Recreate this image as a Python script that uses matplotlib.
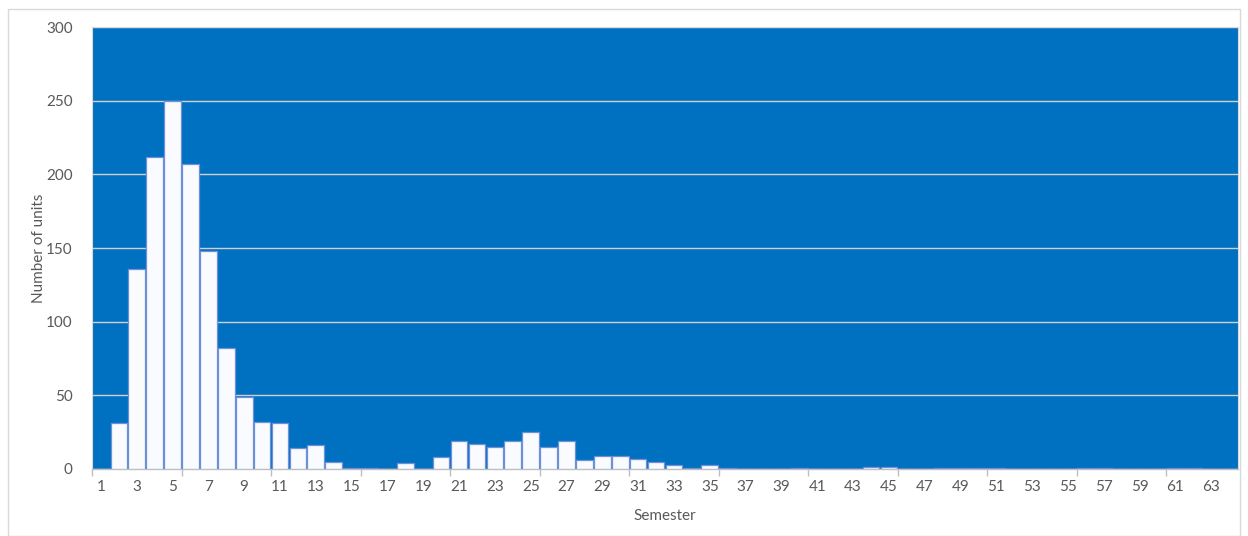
import numpy as np
import matplotlib
matplotlib.use("Agg")
import matplotlib.pyplot as plt
from matplotlib.patches import Rectangle

# units per semester
semesters = list(range(1, 65))
units = [
    0, 31, 136, 212, 250, 207, 148, 82, 49, 32,
    31, 14, 16, 5, 1, 1, 0, 4, 0, 8,
    19, 17, 15, 19, 25, 15, 19, 6, 9, 9,
    7, 5, 3, 1, 3, 0.5, 0.3, 0.3, 0.3, 0.5,
    0.3, 0.3, 0.3, 1.5, 1.5, 0.3, 0.3, 0.5, 0.5, 0.5,
    0.5, 0.3, 0.3, 0.3, 0.3, 0.5, 0.5, 0.3, 0.3, 0.3,
    0.5, 0.5, 0.3, 0.3,
]
y_ticks = [0, 50, 100, 150, 200, 250, 300]

plt.rcParams["font.family"] = ["Lato", "DejaVu Sans"]

fig = plt.figure(figsize=(12.48, 5.36), dpi=100)
ax = fig.add_axes([0.0737, 0.125, 0.9183, 0.8246])

# outer chart border
fig.patches.append(Rectangle((8 / 1248, 0), 1232 / 1248, 527 / 536, transform=fig.transFigure,
                             fill=False, edgecolor="#D9D9D9", linewidth=1.0))

ax.set_facecolor("#0070C0")
ax.bar(semesters, units, width=0.93, color="#F9FBFE", edgecolor="#6F8FD8", linewidth=0.9, zorder=3)

ax.set_xlim(0.5, 64.5)
ax.set_ylim(0, 300)

ax.set_yticks(y_ticks)
ax.yaxis.grid(True, color="#D0D0D0", linewidth=1.0, zorder=1)
ax.tick_params(axis="y", length=0, labelsize=11, colors="#595959", pad=14)

# labels on odd semesters, tick marks every 5 categories
ax.set_xticks(semesters[::2])
ax.set_xticklabels([str(s) for s in semesters[::2]])
ax.set_xticks(np.arange(0.5, 65, 5), minor=True)
ax.tick_params(axis="x", which="major", length=0, labelsize=11, colors="#595959", pad=8)
ax.tick_params(axis="x", which="minor", length=5, color="#BFBFBF", width=1)

for side in ["top", "right", "left"]:
    ax.spines[side].set_color("#D9D9D9")
    ax.spines[side].set_linewidth(0.8)
ax.spines["bottom"].set_color("#BFBFBF")
ax.spines["bottom"].set_linewidth(1.0)

ax.set_xlabel("Semester", fontsize=11, color="#595959", labelpad=11)
ax.set_ylabel("Number of units", fontsize=11, color="#595959", labelpad=0)

fig.savefig("out.png", dpi=100)
